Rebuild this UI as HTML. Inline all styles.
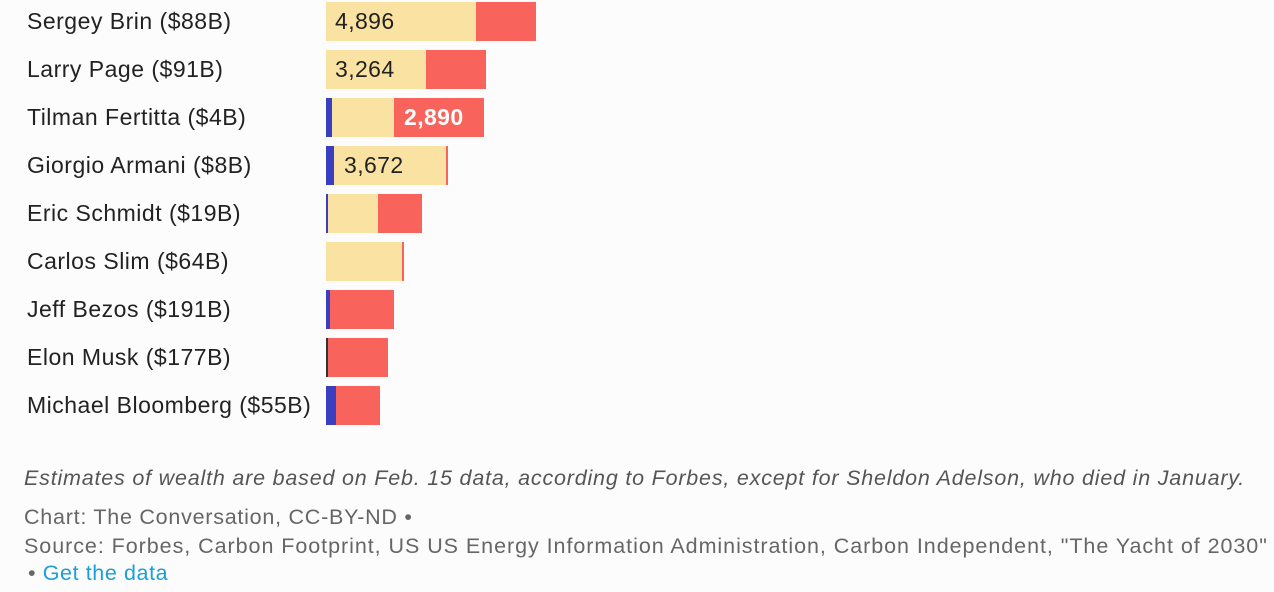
<!DOCTYPE html>
<html><head><meta charset="utf-8"><style>
body{margin:0;width:1274px;height:592px;background:#fdfcfd;font-family:"Liberation Sans",sans-serif;position:relative;overflow:hidden}
.l{position:absolute;left:27px;font-size:23px;color:#222;line-height:26px;letter-spacing:0.5px;white-space:nowrap}
.b{position:absolute;height:39px}
.y{background:#fae3a2}.r{background:#f8645b}.u{background:#3a3ec0}
.v{position:absolute;font-size:23px;color:#222;line-height:26px;letter-spacing:0.4px}
.f{position:absolute;left:24px;font-size:21.5px;color:#666;white-space:nowrap}
</style></head><body>
<div class="l" style="top:8px">Sergey Brin ($88B)</div>
<div class="l" style="top:56px">Larry Page ($91B)</div>
<div class="l" style="top:104px">Tilman Fertitta ($4B)</div>
<div class="l" style="top:152px">Giorgio Armani ($8B)</div>
<div class="l" style="top:200px">Eric Schmidt ($19B)</div>
<div class="l" style="top:248px">Carlos Slim ($64B)</div>
<div class="l" style="top:296px">Jeff Bezos ($191B)</div>
<div class="l" style="top:344px">Elon Musk ($177B)</div>
<div class="l" style="top:392px">Michael Bloomberg ($55B)</div>

<div class="b y" style="top:2px;left:326px;width:150px"></div><div class="b r" style="top:2px;left:476px;width:60px"></div>
<div class="v" style="top:8px;left:335px">4,896</div>
<div class="b y" style="top:50px;left:326px;width:100px"></div><div class="b r" style="top:50px;left:426px;width:60px"></div>
<div class="v" style="top:56px;left:335px">3,264</div>
<div class="b u" style="top:98px;left:326px;width:6px"></div><div class="b y" style="top:98px;left:332px;width:62px"></div><div class="b r" style="top:98px;left:394px;width:90px"></div>
<div class="v" style="top:104px;left:404px;color:#fff;font-weight:bold">2,890</div>
<div class="b u" style="top:146px;left:326px;width:8px"></div><div class="b y" style="top:146px;left:334px;width:112px"></div><div class="b r" style="top:146px;left:446px;width:2px"></div>
<div class="v" style="top:152px;left:344px">3,672</div>
<div class="b u" style="top:194px;left:326px;width:2px"></div><div class="b y" style="top:194px;left:328px;width:50px"></div><div class="b r" style="top:194px;left:378px;width:44px"></div>
<div class="b y" style="top:242px;left:326px;width:76px"></div><div class="b r" style="top:242px;left:402px;width:2px"></div>
<div class="b u" style="top:290px;left:326px;width:4px"></div><div class="b r" style="top:290px;left:330px;width:64px"></div>
<div class="b u" style="top:338px;left:326px;width:2px;background:#333"></div><div class="b r" style="top:338px;left:328px;width:60px"></div>
<div class="b u" style="top:386px;left:326px;width:10px"></div><div class="b r" style="top:386px;left:336px;width:44px"></div>

<div class="f" style="top:466px;font-style:italic;color:#555;letter-spacing:0.8px">Estimates of wealth are based on Feb. 15 data, according to Forbes, except for Sheldon Adelson, who died in January.</div>
<div class="f" style="top:505px;letter-spacing:0.75px">Chart: The Conversation, CC-BY-ND •</div>
<div class="f" style="top:534px;letter-spacing:0.95px">Source: Forbes, Carbon Footprint, US US Energy Information Administration, Carbon Independent, "The Yacht of 2030"</div>
<div class="f" style="top:561px;left:28px;letter-spacing:0.6px">• <span style="color:#1a9fd6">Get the data</span></div>
</body></html>
